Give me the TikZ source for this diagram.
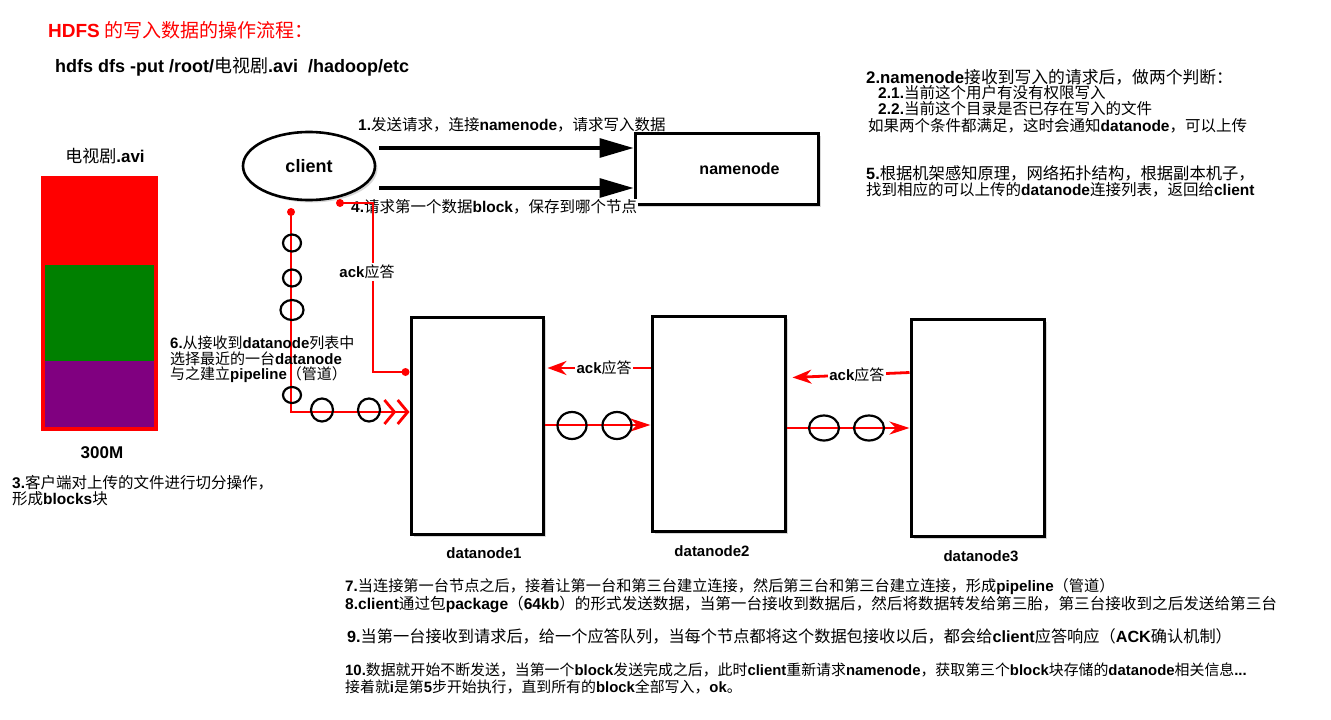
\documentclass[tikz,border=0pt]{standalone}
\usepackage{fontspec}
\setmainfont{Noto Sans CJK SC}
\newfontfamily\latb{Liberation Sans}
\usetikzlibrary{arrows.meta,shapes.geometric,calc,shadows}
\newcommand\en[1]{{\latb\bfseries #1}}
\definecolor{fgreen}{HTML}{008000}
\definecolor{fpurple}{HTML}{800080}
\begin{document}
\begin{tikzpicture}[x=1pt,y=-1pt,
  shd/.style={drop shadow={shadow xshift=2.5pt,shadow yshift=-2.5pt,opacity=0.3}},
  box/.style={draw=black,line width=3pt,fill=white,shd,inner sep=0pt},
  txt/.style={anchor=west,inner sep=0pt,font=\fontsize{16}{17}\selectfont},
  rtxt/.style={txt,font=\fontsize{15.5}{16.5}\selectfont},
  btxt/.style={txt,font=\fontsize{15.2}{16}\selectfont},
  ctxt/.style={anchor=center,inner sep=0pt,font=\fontsize{16}{17}\selectfont},
  redl/.style={draw=red,line width=2.8pt},
  ring/.style={draw=black,line width=2.2pt},
  rdot/.style={fill=red},
  bigarrow/.style={draw=black,line width=3.2pt,-{Triangle[length=34pt,width=19pt]}},
  ackarrow/.style={redl,-{Stealth[length=19pt,width=14pt]}},
  dataarrow/.style={redl,-{Stealth[length=20pt,width=13pt]}},
  acklabel/.style={fill=white,inner sep=1.5pt,font=\fontsize{15}{16}\selectfont}]
\useasboundingbox (0,0) rectangle (1331,720);
\fill[white] (0,0) rectangle (1331,720);

% titles
\node[txt,text=red,font=\fontsize{19}{20}\selectfont] (title) at (48,30) {\en{HDFS} 的写入数据的操作流程：};
\node[txt,font=\fontsize{18}{20}\selectfont] (cmd) at (55,67) {\en{hdfs dfs -put /root/}电视剧\en{.avi\ \ /hadoop/etc}};

% file bar
\fill[red] (44,179) rectangle (155,265);
\fill[fgreen] (44,265) rectangle (155,361);
\fill[fpurple] (44,361) rectangle (155,428);
\draw[red,line width=3.2pt] (43,178) rectangle (156,429);
\node[ctxt,font=\fontsize{17}{18}\selectfont] (fname) at (105,156) {电视剧\en{.avi}};
\node[ctxt,font=\fontsize{17}{18}\selectfont] (fsize) at (102,453) {\en{300M}};
\node[txt,font=\fontsize{15.5}{16.5}\selectfont] (t3a) at (12,483) {\en{3.}客户端对上传的文件进行切分操作，};
\node[txt,font=\fontsize{15.5}{16.5}\selectfont] (t3b) at (12,499) {形成\en{blocks}块};

% client and namenode
\node[ellipse,draw=black,line width=2.6pt,fill=white,shd,minimum width=132pt,minimum height=68pt,font=\fontsize{18}{20}\selectfont] (client) at (309,166) {\en{client}};
\node[box,minimum width=183pt,minimum height=71pt,font=\fontsize{16}{18}\selectfont] (namenode) at (726.5,168.5) {\hspace{26pt}\en{namenode}};

% datanodes
\node[box,minimum width=132pt,minimum height=217pt] (dn1) at (477,425.5) {};
\node[box,minimum width=133pt,minimum height=215pt] (dn2) at (718.5,423.5) {};
\node[box,minimum width=133pt,minimum height=217pt] (dn3) at (977.5,427.5) {};
\node[ctxt,font=\fontsize{15}{16}\selectfont] (dl1) at (484,553) {\en{datanode1}};
\node[ctxt,font=\fontsize{15}{16}\selectfont] (dl2) at (712,551) {\en{datanode2}};
\node[ctxt,font=\fontsize{15}{16}\selectfont] (dl3) at (981,556) {\en{datanode3}};

% big black arrows client -> namenode
\coordinate (a1) at ($(client.east)+(3,-18)$);
\coordinate (a2) at ($(client.east)+(3,22)$);
\draw[bigarrow] (a1) -- (a1 -| namenode.west);
\draw[bigarrow] (a2) -- (a2 -| namenode.west);
\node[rtxt] (t1) at (358,125) {\en{1.}发送请求，连接\en{namenode}，请求写入数据};
\node[rtxt,fill=white,inner sep=1pt] (t4) at (350,207) {\en{4.}请求第一个数据\en{block}，保存到哪个节点};

% pipeline from client to datanode1
\coordinate (p0) at (291,212);
\coordinate (p1) at ($(dn1.west)+(0,-13.5)$);
\draw[redl,-{Straight Barb[length=10pt,width=24pt] Straight Barb[length=10pt,width=24pt]}] (p0) |- (p1);
\fill[rdot] (p0) circle (4pt);
\draw[ring] (292,243) ellipse [x radius=9pt,y radius=8.5pt];
\draw[ring] (292,278) ellipse [x radius=9pt,y radius=8.5pt];
\draw[ring] (292,310) ellipse [x radius=11.5pt,y radius=10pt];
\draw[ring] (292,395) ellipse [x radius=9pt,y radius=8pt];
\draw[ring] (322,410) ellipse [x radius=11pt,y radius=11.5pt];
\draw[ring] (369,410) ellipse [x radius=11pt,y radius=11.5pt];
\node[txt,font=\fontsize{15}{16}\selectfont] (t6a) at (170,343) {\en{6.}从接收到\en{datanode}列表中};
\node[txt,font=\fontsize{15}{16}\selectfont] (t6b) at (170,359) {选择最近的一台\en{datanode}};
\node[txt,font=\fontsize{15}{16}\selectfont] (t6c) at (170,375) {与之建立\en{pipeline}（管道）};

% ack back to client
\coordinate (k0) at ($(dn1.west)+(-4,-53.5)$);
\coordinate (k1) at (373,203);
\coordinate (k2) at (340,203);
\draw[redl] (k0) -| (k1) -- (k2);
\fill[rdot] (k0) circle (4pt);
\fill[rdot] (k2) circle (4pt);
\node[acklabel] (ack0) at (367,272) {\en{ack}应答};

% datanode pipeline
\coordinate (d12) at ($(dn1.east)+(0,-0.5)$);
\draw[dataarrow] (d12) -- (d12 -| dn2.west);
\draw[ring] (572,425.5) ellipse [x radius=14.5pt,y radius=13.5pt];
\draw[ring] (617,425.5) ellipse [x radius=14.5pt,y radius=13.5pt];
\coordinate (d23) at ($(dn2.east)+(0,4.5)$);
\draw[dataarrow] (d23) -- (d23 -| dn3.west);
\draw[ring] (824,428) ellipse [x radius=15pt,y radius=12.5pt];
\draw[ring] (869,428) ellipse [x radius=15pt,y radius=12.5pt];

% acks between datanodes
\coordinate (c21) at ($(dn2.west)+(0,-55.5)$);
\draw[ackarrow] (c21) -- ($(dn1.east)+(3,-57.5)$) node[acklabel,pos=0.45] (ack1) {\en{ack}应答};
\coordinate (c32) at ($(dn3.west)+(0,-55)$);
\draw[ackarrow] (c32) -- ($(dn2.east)+(6,-46)$) node[acklabel,pos=0.45] (ack2) {\en{ack}应答};

% right notes
\node[rtxt,font=\fontsize{16.8}{17}\selectfont] (t2a) at (866,77) {\en{2.namenode}接收到写入的请求后，做两个判断：};
\node[rtxt] (t2b) at (878,93) {\en{2.1.}当前这个用户有没有权限写入};
\node[rtxt] (t2c) at (878,109) {\en{2.2.}当前这个目录是否已存在写入的文件};
\node[rtxt] (t2d) at (868,126) {如果两个条件都满足，这时会通知\en{datanode}，可以上传};
\node[rtxt,font=\fontsize{16.3}{17}\selectfont] (t5a) at (866,173) {\en{5.}根据机架感知原理，网络拓扑结构，根据副本机子，};
\node[rtxt] (t5b) at (866,190) {找到相应的可以上传的\en{datanode}连接列表，返回给\en{client}};

% bottom notes
\node[btxt] (t7) at (345,587) {\en{7.}当连接第一台节点之后，接着让第一台和第三台建立连接，然后第三台和第三台建立连接，形成\en{pipeline}（管道）};
\node[btxt,font=\fontsize{15.6}{16}\selectfont] (t8) at (345,604) {\en{8.client}通过包\en{package}（\en{64kb}）的形式发送数据，当第一台接收到数据后，然后将数据转发给第三胎，第三台接收到之后发送给第三台};
\node[btxt,font=\fontsize{16.2}{17}\selectfont] (t9) at (347,636) {\en{9.}当第一台接收到请求后，给一个应答队列，当每个节点都将这个数据包接收以后，都会给\en{client}应答响应（\en{ACK}确认机制）};
\node[btxt,font=\fontsize{14.9}{16}\selectfont] (t10) at (345,670) {\en{10.}数据就开始不断发送，当第一个\en{block}发送完成之后，此时\en{client}重新请求\en{namenode}，获取第三个\en{block}块存储的\en{datanode}相关信息\en{...}};
\node[btxt,font=\fontsize{14.9}{16}\selectfont] (t11) at (345,687) {接着就\en{i}是第\en{5}步开始执行，直到所有的\en{block}全部写入，\en{ok}。};
\end{tikzpicture}
\end{document}
